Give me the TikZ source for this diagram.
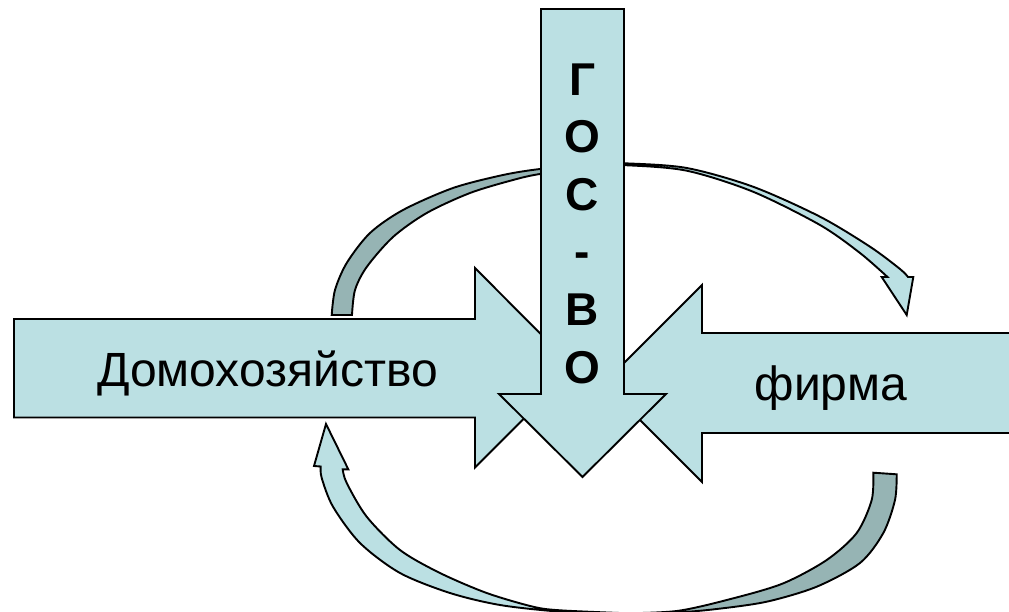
\documentclass[tikz,border=0pt]{standalone}
\usepackage{fontspec}
\setmainfont{Liberation Sans}
\definecolor{lightfill}{RGB}{187,224,227}
\definecolor{darkfill}{RGB}{150,180,180}
\begin{document}
\begin{tikzpicture}[x=1pt,y=-1pt,
  outl/.style={draw=black,line width=1.9pt,line join=miter},
  lightshape/.style={outl,fill=lightfill},
  darkshape/.style={outl,fill=darkfill},
  txtlabel/.style={font=\fontsize{48}{58}\selectfont,anchor=base,inner sep=0pt},
  vlabel/.style={font=\bfseries\fontsize{46}{57.6}\selectfont,align=center,anchor=base,inner sep=0pt}]
\useasboundingbox (0,0) rectangle (1009,612);
\clip (0,0) rectangle (1009,612);
% top curved arrow: dark back part
\path[darkshape] plot[smooth] coordinates {(331.7,315) (335,290) (346.7,263) (370,233) (403,210) (453,188) (503,175) (540,169) (585,165)}
  -- plot[smooth] coordinates {(585,169) (540,174) (513,180) (470,193) (426.7,213) (393,237) (366.7,267) (355,290) (352,315)} -- cycle;
% top curved arrow: light front part with head
\path[lightshape] plot[smooth] coordinates {(580,163) (625,163.3) (686.7,168) (753,186.7) (820,216.7) (870,246.7) (900,269) (908,277)}
  -- (913.3,277) -- (906.7,315) -- (881.7,277) -- (887.5,277)
  -- plot[smooth] coordinates {(887.5,277) (860,253) (820,225) (753,191.7) (686.7,170.7) (625,165.2) (580,165.5)} -- cycle;
% bottom curved arrow: light front part with head
\path[lightshape] plot[smooth] coordinates {(620,614.5) (560,611.7) (500,605) (450,593) (400,573) (360,543) (333,506.7) (321.7,478) (320.7,466.5)}
  -- (314,466) -- (326,424) -- (348.3,469.3) -- (342.7,469.3)
  -- plot[smooth] coordinates {(342.7,469.3) (346.7,483) (366.7,516.7) (400,550) (440,573) (486.7,593) (533,606.7) (560,610.3) (620,613)} -- cycle;
% bottom curved arrow: dark back part
\path[darkshape] plot[smooth] coordinates {(896.7,474.3) (895,500) (883.3,533) (860,563) (816.7,586.7) (766.7,601.7) (716.7,609) (676.7,612.5) (615,615)}
  -- plot[smooth] coordinates {(615,613.5) (676.7,611) (733.3,598.3) (783.3,583.3) (826.7,560) (856.7,533) (871.7,500) (873.3,472.7)} -- cycle;
% left arrow
\path[lightshape] (14,319) -- (475,319) -- (475,268) -- (574.5,368) -- (475,467.5) -- (475,417.5) -- (14,417.5) -- cycle;
% right arrow
\path[lightshape] (1020,333) -- (702,333) -- (702,285) -- (603.5,383.5) -- (702,482) -- (702,433) -- (1020,433) -- cycle;
% vertical arrow
\path[lightshape] (541,9) -- (624,9) -- (624,394) -- (666,394) -- (582.5,477) -- (499,394) -- (541,394) -- cycle;
% labels
\node[txtlabel] (dom) at (267.5,386) {Домохозяйство};
\node[txtlabel] (firm) at (831,400) {фирма};
\node[vlabel] (gos) at (582.5,383) {Г\\О\\С\\-\\В\\О};
\end{tikzpicture}
\end{document}
